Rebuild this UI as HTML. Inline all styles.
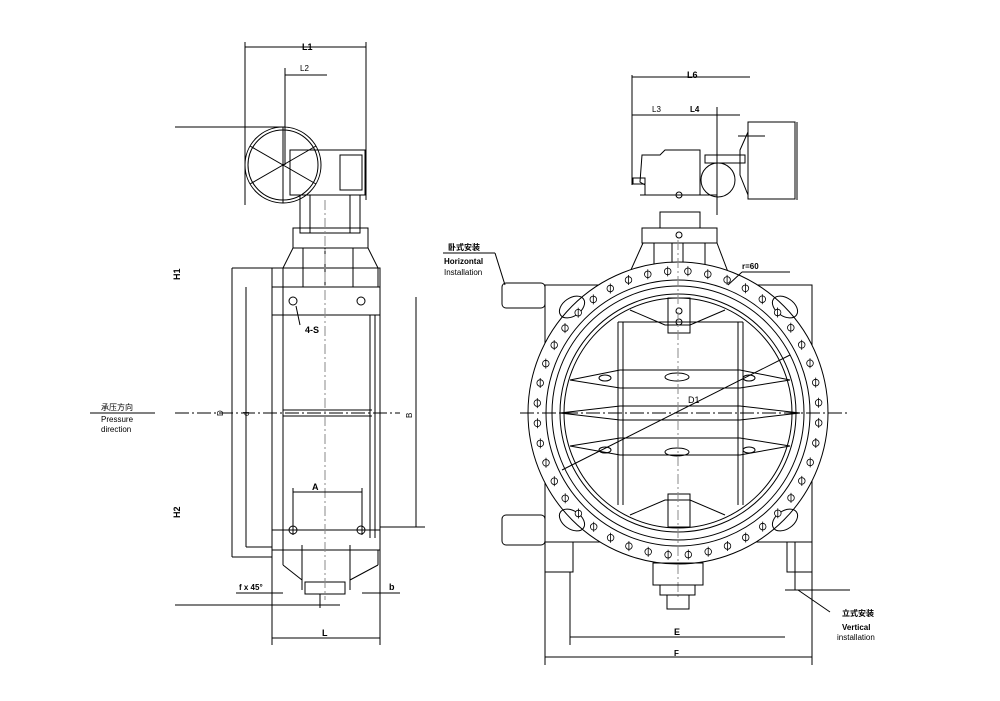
<!DOCTYPE html>
<html><head><meta charset="utf-8"><style>
html,body{margin:0;padding:0;background:#fff;}
svg{display:block;}
text{font-family:"Liberation Sans","Noto Sans CJK SC",sans-serif;fill:#000;}
</style></head><body>
<svg id="s" width="1000" height="701" viewBox="0 0 1000 701" xmlns="http://www.w3.org/2000/svg">
<g fill="none" stroke="#000" stroke-width="1">
<line x1="245" y1="42" x2="245" y2="205"/><line x1="366" y1="42" x2="366" y2="200"/>
<line x1="245" y1="47" x2="366" y2="47"/>
<line x1="285" y1="68" x2="285" y2="165"/><line x1="285" y1="75" x2="327" y2="75"/>
<line x1="175" y1="127" x2="285" y2="127"/>
<circle cx="283" cy="165" r="38"/><circle cx="283" cy="165" r="35"/>
<line x1="283" y1="127" x2="283" y2="203"/><line x1="250" y1="146" x2="316" y2="184"/>
<line x1="250" y1="184" x2="316" y2="146"/>
<rect x="290" y="150" width="75" height="45"/>
<rect x="340" y="155" width="22" height="35"/>
<line x1="300" y1="195" x2="300" y2="210"/>
<rect x="300" y="195" width="60" height="38"/>
<line x1="310" y1="195" x2="310" y2="233"/><line x1="350" y1="195" x2="350" y2="233"/>
<rect x="293" y="228" width="75" height="20"/>
<line x1="293" y1="248" x2="283" y2="268"/><line x1="368" y1="248" x2="378" y2="268"/>
<line x1="283" y1="268" x2="283" y2="287"/><line x1="378" y1="268" x2="378" y2="287"/>
<line x1="303" y1="248" x2="303" y2="287"/><line x1="325" y1="248" x2="325" y2="287"/><line x1="353" y1="248" x2="353" y2="287"/>
<rect x="272" y="268" width="108" height="282"/>
<rect x="272" y="287" width="108" height="28"/>
<line x1="283" y1="268" x2="283" y2="550"/>
<line x1="370" y1="315" x2="370" y2="538"/><line x1="375" y1="315" x2="375" y2="538"/>
<line x1="283" y1="410" x2="372" y2="410"/><line x1="283" y1="416" x2="372" y2="416"/>
<line x1="272" y1="530" x2="380" y2="530"/>
<circle cx="293" cy="301" r="4"/><circle cx="361" cy="301" r="4"/>
<circle cx="293" cy="530" r="4"/><circle cx="361" cy="530" r="4"/>
<line x1="283" y1="550" x2="283" y2="565"/><line x1="283" y1="565" x2="302" y2="580"/>
<line x1="378" y1="550" x2="378" y2="565"/><line x1="378" y1="565" x2="350" y2="580"/>
<line x1="302" y1="545" x2="302" y2="590"/><line x1="350" y1="545" x2="350" y2="590"/>
<rect x="305" y="582" width="40" height="12"/>
<line x1="320" y1="594" x2="320" y2="608"/>
<line x1="175" y1="605" x2="340" y2="605"/>
<line x1="232" y1="268" x2="232" y2="557"/><line x1="232" y1="268" x2="272" y2="268"/><line x1="232" y1="557" x2="272" y2="557"/>
<line x1="246" y1="287" x2="246" y2="547"/><line x1="246" y1="547" x2="272" y2="547"/>
<line x1="416" y1="297" x2="416" y2="527"/><line x1="380" y1="527" x2="425" y2="527"/>
<line x1="175" y1="413" x2="400" y2="413" stroke-dasharray="14,3,2,3"/>
<line x1="325" y1="200" x2="325" y2="600" stroke-dasharray="10,3,2,3" stroke="#888"/>
<line x1="293" y1="492" x2="362" y2="492"/><line x1="293" y1="488" x2="293" y2="535"/><line x1="362" y1="488" x2="362" y2="535"/>
<line x1="236" y1="593" x2="283" y2="593"/><line x1="362" y1="593" x2="400" y2="593"/>
<line x1="272" y1="550" x2="272" y2="645"/><line x1="380" y1="550" x2="380" y2="645"/>
<line x1="272" y1="638" x2="380" y2="638"/>
<line x1="90" y1="413" x2="155" y2="413"/>
<line x1="296" y1="306" x2="300" y2="325"/>

<line x1="632" y1="77" x2="750" y2="77"/>
<line x1="632" y1="75" x2="632" y2="185"/>
<line x1="632" y1="115" x2="740" y2="115"/>
<line x1="717" y1="107" x2="717" y2="215"/>
<rect x="748" y="122" width="47" height="77"/>
<line x1="797" y1="122" x2="797" y2="200"/>
<line x1="738" y1="136" x2="765" y2="136"/>
<path d="M748 132 L740 150 L740 175 L748 195"/>
<path d="M642 155 L660 155 L665 150 L700 150 L700 195 L645 195 L645 185 L640 182 Z"/>
<line x1="640" y1="195" x2="717" y2="195"/>
<rect x="705" y="155" width="40" height="8"/>
<circle cx="718" cy="180" r="17"/>
<rect x="633" y="178" width="12" height="6"/>
<circle cx="679" cy="195" r="3"/>
<rect x="660" y="212" width="40" height="16"/>
<rect x="642" y="228" width="75" height="15"/>
<circle cx="679" cy="235" r="3"/>
<line x1="643" y1="243" x2="630" y2="272"/><line x1="717" y1="243" x2="728" y2="272"/>
<line x1="654" y1="243" x2="654" y2="268"/><line x1="672" y1="243" x2="672" y2="265"/><line x1="683" y1="243" x2="683" y2="265"/><line x1="705" y1="243" x2="705" y2="268"/>
<rect x="545" y="285" width="267" height="257"/>
<rect x="502" y="283" width="43" height="25" rx="4"/>
<rect x="502" y="515" width="43" height="30" rx="4"/>
<ellipse cx="678" cy="413" rx="150" ry="151" fill="#fff"/>
<ellipse cx="678" cy="413" rx="132" ry="133"/>
<ellipse cx="678" cy="413" rx="126" ry="127"/>
<ellipse cx="678" cy="413" rx="118" ry="119"/>
<ellipse cx="678" cy="413" rx="114" ry="115"/>
<ellipse cx="572" cy="307" rx="14" ry="9" transform="rotate(-35 572 307)"/><ellipse cx="785" cy="307" rx="14" ry="9" transform="rotate(35 785 307)"/>
<ellipse cx="572" cy="520" rx="14" ry="9" transform="rotate(35 572 520)"/><ellipse cx="785" cy="520" rx="14" ry="9" transform="rotate(-35 785 520)"/>
<line x1="618" y1="322" x2="618" y2="505"/><line x1="623" y1="322" x2="623" y2="505"/>
<line x1="738" y1="322" x2="738" y2="505"/><line x1="743" y1="322" x2="743" y2="505"/>
<line x1="618" y1="322" x2="743" y2="322"/>
<path d="M570 380 L620 370 L740 370 L790 380 L740 388 L620 388 Z"/>
<path d="M560 413 L620 406 L740 406 L800 413 L740 420 L620 420 Z"/>
<path d="M570 446 L620 438 L740 438 L790 446 L740 455 L620 455 Z"/>
<ellipse cx="677" cy="377" rx="12" ry="4"/><ellipse cx="605" cy="378" rx="6" ry="3"/><ellipse cx="749" cy="378" rx="6" ry="3"/>
<ellipse cx="677" cy="452" rx="12" ry="4"/><ellipse cx="605" cy="450" rx="6" ry="3"/><ellipse cx="749" cy="450" rx="6" ry="3"/>
<path d="M630 310 L665 325 L690 325 L725 310"/>
<path d="M630 515 L665 500 L690 500 L725 515"/>
<rect x="668" y="298" width="22" height="35"/><circle cx="679" cy="311" r="3"/><circle cx="679" cy="322" r="3"/>
<rect x="668" y="494" width="22" height="33"/>
<line x1="520" y1="413" x2="850" y2="413" stroke-dasharray="14,3,2,3"/>
<line x1="678" y1="240" x2="678" y2="600" stroke-dasharray="10,3,2,3" stroke="#888"/>
<line x1="562" y1="470" x2="790" y2="355"/>
<rect x="653" y="563" width="50" height="22"/>
<rect x="660" y="585" width="35" height="10"/>
<rect x="667" y="595" width="22" height="14"/>
<line x1="545" y1="542" x2="545" y2="665"/><line x1="812" y1="542" x2="812" y2="665"/>
<rect x="545" y="542" width="28" height="30"/><rect x="787" y="542" width="25" height="30"/>
<line x1="570" y1="572" x2="570" y2="645"/>
<line x1="795" y1="542" x2="795" y2="590"/>
<line x1="785" y1="590" x2="850" y2="590"/>
<line x1="570" y1="637" x2="785" y2="637"/><line x1="545" y1="657" x2="812" y2="657"/>
<line x1="443" y1="253" x2="495" y2="253"/><path d="M495 253 L505 285"/>
<path d="M798 590 L830 612"/>
<line x1="742" y1="272" x2="790" y2="272"/><line x1="742" y1="272" x2="728" y2="285"/>
</g>
<g id="bolts" fill="#fff" stroke="#000" stroke-width="0.8"></g>
<text x="302" y="50" font-size="9" font-weight="bold">L1</text>
<text x="300" y="71" font-size="8">L2</text>
<text x="170" y="280" font-size="9" font-weight="bold" transform="rotate(-90 175 275)">H1</text>
<text x="170" y="518" font-size="9" font-weight="bold" transform="rotate(-90 175 513)">H2</text>
<text x="216" y="417" font-size="8" transform="rotate(-90 219 413)">D</text>
<text x="242" y="417" font-size="8" transform="rotate(-90 245 413)">d</text>
<text x="404" y="418" font-size="8" transform="rotate(-90 408 414)">B</text>
<text x="305" y="333" font-size="9" font-weight="bold">4-S</text>
<text x="312" y="490" font-size="9" font-weight="bold">A</text>
<text x="239" y="590" font-size="8" font-weight="bold">f x 45°</text>
<text x="389" y="590" font-size="9" font-weight="bold">b</text>
<text x="322" y="636" font-size="9" font-weight="bold">L</text>
<text x="101" y="410" font-size="8">承压方向</text>
<text x="101" y="422" font-size="8">Pressure</text>
<text x="101" y="432" font-size="8">direction</text>
<text x="687" y="78" font-size="9" font-weight="bold">L6</text>
<text x="652" y="112" font-size="8">L3</text>
<text x="690" y="112" font-size="8" font-weight="bold">L4</text>
<text x="448" y="250" font-size="8" font-weight="bold">卧式安装</text>
<text x="444" y="264" font-size="8" font-weight="bold">Horizontal</text>
<text x="444" y="275" font-size="8">Installation</text>
<text x="742" y="269" font-size="8" font-weight="bold">r=60</text>
<text x="688" y="403" font-size="9">D1</text>
<text x="674" y="635" font-size="9" font-weight="bold">E</text>
<text x="674" y="656" font-size="8" font-weight="bold">F</text>
<text x="842" y="616" font-size="8" font-weight="bold">立式安装</text>
<text x="842" y="630" font-size="8" font-weight="bold">Vertical</text>
<text x="837" y="640" font-size="8">installation</text>
</svg>
<script>
var g=document.getElementById('bolts'),h='';
for(var i=0;i<44;i++){var a=i*2*Math.PI/44+0.07;var x=678+141*Math.cos(a),y=413+142*Math.sin(a);
h+='<circle cx="'+x.toFixed(1)+'" cy="'+y.toFixed(1)+'" r="3.3"/><line x1="'+x.toFixed(1)+'" y1="'+(y-5).toFixed(1)+'" x2="'+x.toFixed(1)+'" y2="'+(y+5).toFixed(1)+'" stroke="#000"/>';}
g.innerHTML=h;
</script>
</body></html>
